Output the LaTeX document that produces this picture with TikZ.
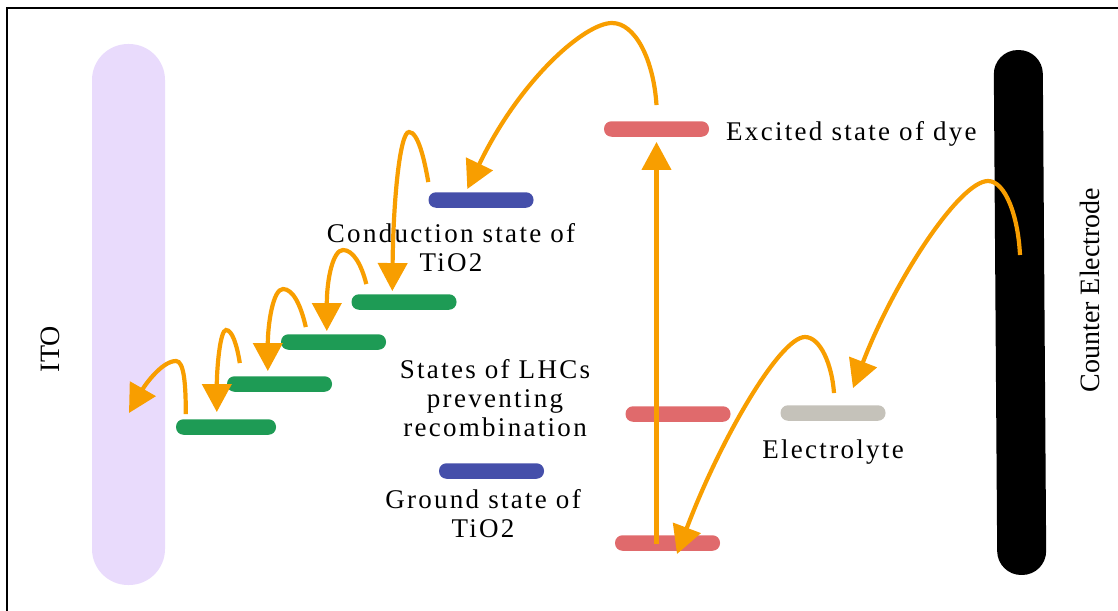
\documentclass[tikz,border=0pt]{standalone}
\usepackage{fontspec}
\setmainfont{Liberation Serif}[LetterSpace=8.5]
\newfontfamily\sidefont{Liberation Serif}
\definecolor{FlowOrange}{RGB}{248,158,0}
\definecolor{DyeRed}{RGB}{224,106,108}
\definecolor{TiBlue}{RGB}{69,79,170}
\definecolor{LhcGreen}{RGB}{30,155,85}
\definecolor{ElecGrey}{RGB}{197,194,186}
\definecolor{ItoLilac}{RGB}{233,219,252}
\usetikzlibrary{arrows.meta,calc}

\begin{document}
\begin{tikzpicture}[
        x=1pt, y=-1pt,
        >={Triangle[length=28pt,width=29pt]},
        level/.style={minimum width=105pt, minimum height=15.5pt, rounded corners=7.5pt, inner sep=0pt},
        electrode/.style={inner sep=0pt},
        flow/.style={->, line width=4.2pt, FlowOrange},
        lab/.style={font=\fontsize{27}{29}\selectfont, align=center, inner sep=0pt},
        side/.style={rotate=90, inner sep=0pt, font=\sidefont\fontsize{28}{34}\selectfont}
    ]
        \useasboundingbox (0,0) rectangle (1118,610);
        \draw[line width=2pt] (7,640) -- (7,8) -- (1150,8);

        \node[electrode, fill=ItoLilac, minimum width=73pt, minimum height=541pt, rounded corners=36pt] (ito) at (128.5,314.5) {};
        \node[electrode, fill=black, minimum width=49pt, minimum height=525pt, rounded corners=24pt, rotate=0.4] (ce) at (1020,312.5) {};
        \node[side] (itoLab) at (50,349) {ITO};
        \node[side] (ceLab) at (1090,290) {Counter Electrode};

        \node[level, fill=DyeRed] (exc) at (656.5,129) {};
        \node[level, fill=DyeRed] (mid) at (678,414) {};
        \node[level, fill=DyeRed] (gnd) at (667.5,543) {};
        \node[level, fill=ElecGrey] (elec) at (833,413) {};
        \node[level, fill=TiBlue] (cb) at (481,200) {};
        \node[level, fill=TiBlue] (vb) at (491.5,471) {};
        \node[level, fill=LhcGreen] (g1) at (404,302) {};
        \node[level, fill=LhcGreen] (g2) at (333.5,342) {};
        \node[level, fill=LhcGreen] (g3) at (279.5,384) {};
        \node[level, fill=LhcGreen, minimum width=100pt] (g4) at (226,427) {};

        \node[lab, anchor=base west] (excLab) at (726,140) {Excited state of dye};
        \node[lab] (cbLab) at (451,248) {Conduction state of\\TiO2};
        \node[lab] (lhcLab) at (495,398) {States of LHCs\\preventing\\recombination};
        \node[lab] (vbLab) at (483,514) {Ground state of\\TiO2};
        \node[lab, anchor=base] (elecLab) at (833,458) {Electrolyte};

        \draw[flow] ($(exc.north)+(0,-16)$) .. controls +(-3,-46) and +(23,0) .. (612,23)
            .. controls +(-27,0) and +(53,-110) .. ($(cb.north west)+(39,-3)$);
        \draw[flow] ($(cb.north west)+(0,-10)$) .. controls +(-4,-23) and +(9,0) .. (409,132)
            .. controls +(-9,0) and +(1,-92) .. ($(g1.north west)+(41,-3)$);
        \draw[flow] ($(g1.north west)+(15,-10)$) .. controls +(-5,-20) and +(10,0) .. (343,250)
            .. controls +(-10,0) and +(0,-52) .. ($(g2.north west)+(46,-3)$);
        \draw[flow] ($(g2.north west)+(25,-7)$) .. controls +(-5,-22) and +(10,0) .. (283,289)
            .. controls +(-10,0) and +(0,-47) .. ($(g3.north west)+(41,-5)$);
        \draw[flow] ($(g3.north west)+(13,-13)$) .. controls +(-3,-19) and +(6,0) .. (226,330)
            .. controls +(-6,0) and +(0,-43) .. ($(g4.north west)+(41,-7)$);
        \draw[flow] ($(g4.north west)+(10,-5)$) .. controls +(0,-30) and +(8,0) .. (176,361)
            .. controls +(-14,0) and +(16,-28) .. ($(ito.center)+(0.5,98.5)$);
        \draw[flow] ($(gnd.center)+(-11,1)$) -- ($(exc.south)+(0,5)$);
        \draw[flow] ($(ce.center)+(0,-57.5)$) .. controls +(-2,-40) and +(17,0) .. (988,181)
            .. controls +(-28,0) and +(42,-109) .. ($(elec.north)+(20,-17)$);
        \draw[flow] ($(elec.north)+(1,-12)$) .. controls +(-2,-29) and +(15,0) .. (805,337)
            .. controls +(-25,0) and +(43,-114) .. ($(gnd.center)+(9.5,11)$);
    \end{tikzpicture}
\end{document}
